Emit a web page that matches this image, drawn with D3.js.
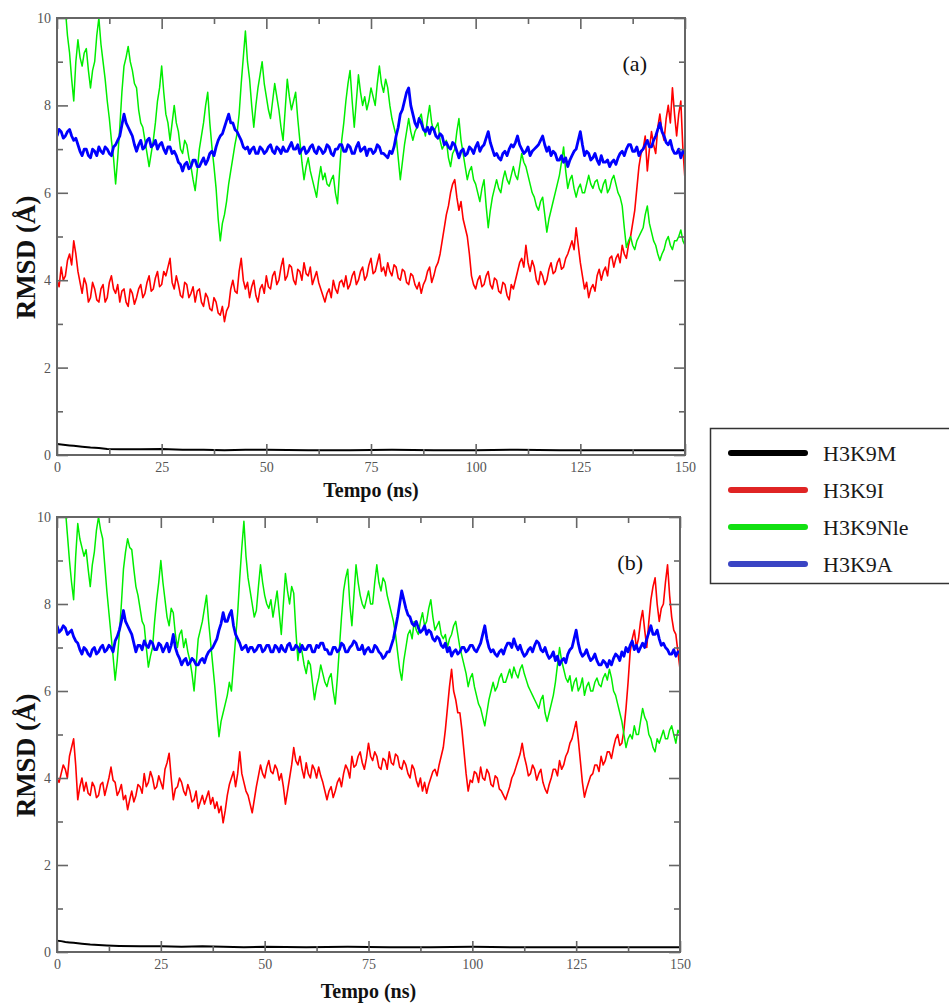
<!DOCTYPE html>
<html>
<head>
<meta charset="utf-8">
<script src="https://cdn.jsdelivr.net/npm/d3@7"></script>
<style>
  body { margin: 0; background: #fff; }
  svg { display: block; }
  .serif { font-family: "Liberation Serif", "Times New Roman", Times, "DejaVu Serif", "Noto Serif", serif; }
</style>
</head>
<body>
<svg id="chart" width="949" height="1003"></svg>
<script>
// RMSD traces of the four H3K9 variants, two replicate panels
const seriesNames = ["H3K9M", "H3K9I", "H3K9Nle", "H3K9A"];
const lineColors = ["#000000", "#ff0000", "#00ee00", "#0000ff"];
const legendColors = ["#000000", "#e02424", "#12e012", "#3a44c4"];
const panelTags = ["(a)", "(b)"];
const xTicks = [0, 25, 50, 75, 100, 125, 150];
const xMinorTicks = [12.5, 37.5, 62.5, 87.5, 112.5, 137.5];
const yTicks = [0, 2, 4, 6, 8, 10];
const yMinorTicks = [1, 3, 5, 7, 9];

// sampling times (ns) of the coloured traces: every 0.5 ns from 0 to 150
const timeNs = d3.range(0, 150.25, 0.5);

// H3K9M is sampled more sparsely
const blackTime = [0, 1, 2, 3, 4, 6, 8, 10, 12, 15, 20, 25, 30, 35, 40, 45, 50, 60, 70, 80, 90, 100, 110, 120, 130, 140, 150];
const blackA = [0.25, 0.24, 0.23, 0.22, 0.21, 0.19, 0.17, 0.16, 0.14, 0.13, 0.13, 0.14, 0.12, 0.12, 0.11, 0.12, 0.12, 0.11, 0.11, 0.12, 0.11, 0.11, 0.12, 0.11, 0.11, 0.11, 0.11];
const blackB = [0.26, 0.25, 0.23, 0.22, 0.21, 0.19, 0.17, 0.16, 0.15, 0.14, 0.13, 0.13, 0.12, 0.13, 0.12, 0.11, 0.12, 0.11, 0.12, 0.11, 0.11, 0.12, 0.11, 0.11, 0.11, 0.11, 0.11];

// panel (a), one row per 10 ns
const redA = [
  4.0,3.85, 4.3,4.0, 4.1,4.45, 4.6,4.35, 4.9,4.6, 4.2,3.95, 3.7,4.05, 3.9,3.5, 3.6,3.95, 3.8,3.55,
  3.5,3.8, 3.9,3.5, 3.6,3.95, 4.1,3.8, 3.7,3.9, 3.5,3.75, 3.8,3.5, 3.4,3.8, 3.7,3.45, 3.6,3.8,
  3.9,3.6, 3.7,3.95, 4.1,3.75, 3.8,4.05, 4.2,3.85, 3.9,4.2, 4.1,4.3, 4.5,3.95, 3.8,4.1, 3.9,3.65,
  3.6,3.95, 3.9,3.6, 3.7,3.85, 3.5,3.75, 3.8,3.5, 3.4,3.7, 3.6,3.35, 3.3,3.6, 3.5,3.25, 3.2,3.4,
  3.05,3.3, 3.4,3.8, 4.0,3.75, 3.7,4.2, 4.5,4.0, 3.8,3.95, 3.6,3.85, 4.0,3.65, 3.5,3.8, 3.9,3.7,
  4.1,3.85, 3.8,4.1, 4.2,3.9, 4.0,4.3, 4.5,4.0, 4.1,4.35, 4.3,4.0, 3.9,4.25, 4.2,4.0, 4.4,4.15,
  4.1,4.3, 3.9,4.05, 4.2,3.95, 3.8,3.65, 3.5,3.7, 3.8,3.6, 4.0,3.8, 3.7,3.95, 4.0,3.85, 4.1,3.8,
  3.9,4.1, 4.2,3.9, 4.0,4.2, 4.3,4.0, 4.1,4.35, 4.5,4.15, 4.2,4.4, 4.6,4.2, 4.3,4.1, 4.4,4.2,
  4.1,4.35, 4.3,4.05, 4.0,4.25, 4.2,3.95, 3.9,4.15, 4.1,3.9, 3.8,3.95, 3.7,3.9, 4.0,4.2, 4.3,3.95,
  4.1,4.3, 4.4,4.6, 4.9,5.2, 5.5,5.7, 6.0,6.2, 6.3,5.9, 5.6,5.8, 5.4,5.2, 5.0,4.6, 4.1,3.9,
  3.8,4.0, 4.1,3.85, 3.9,4.1, 4.2,3.9, 3.8,4.05, 4.0,3.75, 3.7,3.95, 3.9,3.65, 3.55,3.9, 3.8,4.0,
  4.2,4.4, 4.5,4.3, 4.8,4.4, 4.2,4.45, 4.3,4.0, 3.9,4.2, 4.1,3.9, 4.0,4.25, 4.4,4.15, 4.2,4.4,
  4.5,4.25, 4.3,4.5, 4.6,4.75, 4.9,4.7, 5.2,4.8, 4.4,4.1, 3.8,3.95, 3.6,3.8, 3.9,3.75, 4.1,4.25,
  4.0,4.2, 4.3,4.1, 4.5,4.55, 4.3,4.5, 4.6,4.4, 4.8,4.6, 4.5,4.8, 5.0,5.3, 5.6,6.1, 6.6,6.9,
  7.0,7.3, 6.5,7.0, 7.4,7.1, 6.9,7.5, 7.8,7.4, 7.2,7.7, 8.0,7.6, 8.4,7.8, 7.3,7.8, 8.1,7.0,
  6.3
];
const greenA = [
  10.8,10.6, 10.5,10.4, 10.2,9.6, 9.2,8.6, 8.1,9.0, 9.5,9.1, 8.9,9.2, 9.3,8.8, 8.4,8.8, 9.0,9.6,
  10.0,9.4, 9.0,8.6, 8.1,7.7, 7.2,6.8, 6.2,6.8, 7.5,8.3, 8.9,9.1, 9.35,9.0, 8.8,8.5, 8.4,7.9,
  7.6,7.5, 7.2,6.9, 6.6,6.9, 7.2,7.6, 8.1,8.4, 8.9,8.3, 7.8,7.6, 7.2,7.6, 8.0,7.6, 7.4,7.0,
  6.9,7.2, 7.1,6.8, 6.6,6.3, 6.05,6.5, 7.0,7.3, 7.6,8.0, 8.3,7.6, 7.05,6.6, 6.1,5.4, 4.9,5.3,
  5.5,5.8, 6.2,6.5, 6.8,7.1, 7.35,7.8, 8.5,9.1, 9.7,9.0, 8.6,8.0, 7.5,8.0, 8.4,8.7, 9.0,8.5,
  8.2,7.9, 7.7,8.1, 8.5,8.2, 7.9,7.5, 7.2,7.9, 8.6,8.2, 7.9,8.1, 8.3,7.7, 7.2,6.7, 6.3,6.6,
  6.8,6.5, 6.3,6.1, 5.9,6.3, 6.6,6.3, 6.45,6.2, 6.15,6.3, 6.4,6.0, 5.75,6.5, 7.2,7.6, 8.1,8.5,
  8.8,8.1, 7.5,8.1, 8.7,8.3, 8.0,8.2, 7.9,8.1, 8.4,8.2, 8.0,8.5, 8.9,8.5, 8.3,8.6, 8.4,8.0,
  7.7,7.5, 7.3,6.8, 6.3,6.7, 7.1,7.4, 7.7,7.4, 7.2,7.4, 7.5,7.7, 7.8,7.5, 7.3,7.7, 8.0,7.6,
  7.4,7.5, 7.6,7.2, 7.0,7.1, 7.2,6.8, 6.6,6.9, 7.0,7.4, 7.7,7.2, 6.9,6.6, 6.3,6.5, 6.6,6.3,
  6.2,6.0, 5.8,6.1, 6.3,5.7, 5.2,5.6, 5.9,6.1, 6.3,6.1, 6.0,6.3, 6.5,6.3, 6.2,6.4, 6.6,6.4,
  6.3,6.6, 6.9,6.7, 6.6,6.4, 6.2,6.0, 5.9,5.7, 5.6,5.8, 5.9,5.5, 5.1,5.4, 5.6,5.8, 6.0,6.2,
  6.4,6.7, 7.05,6.5, 6.1,6.3, 6.4,6.1, 5.9,6.1, 6.2,6.0, 6.0,6.2, 6.4,6.2, 6.1,6.25, 6.3,6.1,
  6.0,6.2, 6.3,6.0, 6.1,6.3, 6.4,6.2, 6.0,5.9, 5.7,5.2, 4.75,4.9, 5.0,4.8, 4.7,4.9, 5.0,5.1,
  5.2,5.5, 5.7,5.3, 5.1,4.9, 4.8,4.6, 4.45,4.6, 4.7,4.9, 5.0,4.8, 4.7,4.9, 4.9,5.0, 5.15,4.9,
  4.8
];
const blueA = [
  7.3,7.45, 7.4,7.25, 7.3,7.4, 7.45,7.3, 7.2,7.25, 7.1,6.95, 6.85,7.0, 7.0,6.85, 6.8,7.0, 6.95,6.85,
  7.05,6.95, 6.9,7.05, 7.0,6.9, 6.85,7.05, 7.1,7.2, 7.3,7.55, 7.8,7.6, 7.5,7.4, 7.3,7.1, 6.95,7.1,
  7.2,7.0, 7.05,7.2, 7.25,7.05, 7.1,7.2, 7.0,7.1, 7.15,7.0, 6.9,7.05, 7.05,6.9, 6.95,6.85, 6.7,6.65,
  6.5,6.65, 6.7,6.55, 6.6,6.75, 6.75,6.6, 6.6,6.7, 6.8,6.65, 6.75,6.9, 6.95,6.85, 7.05,7.2, 7.3,7.35,
  7.5,7.65, 7.8,7.6, 7.6,7.45, 7.4,7.3, 7.2,7.05, 7.0,7.05, 6.9,7.0, 7.05,6.9, 6.9,7.05, 7.0,6.9,
  6.95,7.05, 7.1,6.95, 6.9,7.05, 7.0,6.9, 7.05,6.95, 6.95,7.05, 7.15,7.0, 7.0,7.1, 6.9,7.0, 7.05,6.9,
  6.95,7.05, 7.1,6.95, 6.9,7.05, 7.0,6.9, 6.95,7.1, 7.05,6.9, 6.85,7.0, 7.0,7.1, 7.1,6.95, 6.95,7.1,
  7.05,6.9, 6.9,7.05, 7.15,6.95, 7.0,7.05, 6.85,7.0, 7.0,6.9, 6.95,7.1, 7.05,6.9, 6.9,6.85, 6.8,6.95,
  6.9,7.05, 7.3,7.5, 7.8,7.9, 8.1,8.3, 8.4,8.0, 7.8,7.6, 7.5,7.7, 7.6,7.45, 7.4,7.5, 7.35,7.5,
  7.45,7.3, 7.25,7.35, 7.3,7.1, 7.15,7.05, 7.0,7.15, 7.1,6.95, 6.8,6.95, 7.0,6.85, 6.9,7.05, 7.0,6.9,
  7.05,7.15, 6.95,7.05, 7.1,7.25, 7.4,7.15, 7.0,6.85, 6.9,6.8, 6.75,6.9, 6.95,6.85, 7.0,7.1, 7.05,7.15,
  7.3,7.1, 7.0,6.9, 6.95,7.05, 6.85,6.95, 7.0,7.05, 7.1,7.2, 7.3,7.1, 6.95,7.05, 6.85,6.95, 6.9,6.75,
  6.75,6.85, 6.7,6.8, 6.6,6.75, 6.85,6.95, 7.0,7.2, 7.4,7.1, 6.85,6.95, 6.9,6.75, 6.8,6.9, 6.75,6.65,
  6.85,6.7, 6.7,6.75, 6.6,6.7, 6.75,6.65, 6.8,6.9, 6.95,6.85, 7.0,7.1, 7.1,6.95, 6.95,7.05, 6.85,6.95,
  7.0,7.1, 7.2,7.05, 7.05,7.2, 7.3,7.45, 7.6,7.4, 7.3,7.15, 7.1,7.2, 7.0,6.9, 6.9,7.0, 6.8,6.95,
  6.9
];

// panel (b), one row per 10 ns
const redB = [
  4.0,3.9, 4.1,4.3, 4.2,4.0, 4.5,4.7, 4.9,4.3, 3.5,3.8, 4.0,3.7, 3.9,3.65, 3.6,3.9, 3.8,3.55,
  3.6,3.85, 3.9,3.6, 3.8,4.0, 4.25,3.95, 3.9,3.6, 3.7,3.85, 3.5,3.6, 3.27,3.5, 3.7,3.45, 3.6,3.85,
  3.8,3.65, 4.1,3.8, 3.9,4.15, 4.0,3.75, 3.8,4.05, 3.9,3.75, 4.2,4.35, 4.57,4.0, 3.5,3.75, 3.8,4.0,
  3.9,3.7, 3.6,3.85, 3.7,3.45, 3.5,3.7, 3.3,3.45, 3.6,3.4, 3.55,3.7, 3.4,3.55, 3.3,3.45, 3.2,3.35,
  2.97,3.25, 3.6,3.85, 4.0,4.15, 3.8,4.1, 4.6,4.1, 3.9,3.7, 3.6,3.4, 3.2,3.5, 3.8,4.05, 4.3,4.1,
  4.0,4.25, 4.4,4.15, 4.1,4.3, 4.2,3.95, 4.1,3.8, 3.4,3.7, 4.0,4.3, 4.7,4.4, 4.3,4.5, 4.2,4.0,
  4.35,4.1, 4.0,4.3, 4.2,4.0, 4.25,4.05, 3.9,3.7, 3.5,3.7, 3.8,3.55, 3.7,3.9, 4.0,3.8, 4.1,4.3,
  4.2,4.0, 4.5,4.25, 4.3,4.5, 4.6,4.35, 4.2,4.45, 4.8,4.5, 4.4,4.6, 4.5,4.25, 4.2,4.45, 4.4,4.2,
  4.6,4.35, 4.3,4.55, 4.5,4.25, 4.2,4.4, 4.3,4.1, 4.0,4.3, 4.2,3.95, 3.8,4.0, 3.7,3.9, 3.65,3.85,
  4.0,4.15, 4.2,4.05, 4.3,4.5, 4.7,5.1, 5.6,6.1, 6.5,6.0, 5.8,5.5, 5.5,5.1, 4.6,4.1, 3.7,3.95,
  3.9,4.15, 4.1,3.9, 4.25,4.0, 3.95,4.2, 4.1,3.85, 3.8,4.05, 4.0,3.75, 3.7,3.6, 3.5,3.65, 3.8,4.0,
  4.1,4.25, 4.4,4.55, 4.8,4.5, 4.3,4.05, 4.1,4.3, 4.2,3.95, 4.1,4.2, 3.9,3.75, 3.65,3.85, 4.0,4.2,
  4.2,4.05, 4.4,4.2, 4.3,4.5, 4.6,4.8, 4.9,5.1, 5.3,4.9, 4.4,3.9, 3.56,3.75, 3.9,4.05, 4.1,4.3,
  4.3,4.15, 4.5,4.3, 4.4,4.6, 4.6,4.45, 4.7,4.9, 5.0,4.75, 4.8,5.1, 5.6,6.2, 6.9,7.2, 7.4,7.0,
  7.2,7.6, 7.85,7.4, 7.0,7.6, 8.1,8.4, 8.6,8.0, 7.6,7.9, 8.0,8.5, 8.9,8.2, 7.7,7.4, 7.3,6.9,
  6.5
];
const greenB = [
  10.8,10.6, 10.5,10.4, 10.2,9.6, 9.0,8.5, 8.1,9.1, 9.85,9.5, 9.3,9.1, 9.25,8.8, 8.4,8.9, 9.2,9.7,
  10.0,9.7, 9.5,8.9, 8.3,7.8, 7.3,6.8, 6.25,6.7, 7.3,8.0, 8.8,9.2, 9.5,9.3, 9.25,8.8, 8.4,8.2,
  7.9,7.6, 7.5,7.0, 6.55,6.8, 7.0,7.6, 8.1,8.5, 9.0,8.5, 8.1,7.7, 7.5,7.9, 7.8,7.3, 7.0,7.3,
  7.4,7.0, 7.2,6.9, 6.7,6.4, 6.0,6.6, 7.2,7.4, 7.6,7.9, 8.2,7.6, 7.1,6.6, 6.1,5.5, 4.95,5.3,
  5.5,5.7, 5.9,6.2, 6.0,6.6, 7.2,7.8, 8.6,9.3, 9.9,9.1, 8.6,8.3, 8.0,7.7, 7.85,8.4, 8.9,8.5,
  8.2,8.0, 7.9,8.1, 7.7,8.0, 8.3,7.8, 7.3,8.0, 8.7,8.3, 8.0,8.4, 8.25,7.4, 6.7,7.1, 6.9,6.6,
  6.4,6.7, 6.6,6.2, 5.8,6.1, 6.3,6.6, 6.4,6.2, 6.1,6.3, 6.4,6.0, 5.7,6.3, 7.0,7.7, 8.3,8.6,
  8.8,8.0, 7.5,8.2, 8.9,8.5, 8.2,8.0, 7.9,8.1, 8.3,8.0, 8.0,8.5, 8.9,8.5, 8.3,8.6, 8.5,8.2,
  8.0,7.8, 7.6,7.3, 6.9,6.5, 6.25,6.7, 7.0,7.3, 7.4,7.2, 7.6,7.4, 7.3,7.6, 7.8,7.5, 7.6,7.9,
  8.1,7.7, 7.4,7.5, 7.6,7.3, 7.2,7.3, 7.0,7.2, 7.3,7.5, 7.6,7.3, 7.0,6.8, 6.6,6.4, 6.1,6.3,
  6.4,6.1, 5.9,5.7, 5.6,5.4, 5.2,5.5, 5.8,6.0, 6.2,6.0, 6.1,6.3, 6.4,6.2, 6.2,6.35, 6.5,6.3,
  6.55,6.4, 6.3,6.5, 6.6,6.4, 6.25,6.1, 6.0,5.9, 5.8,5.7, 5.6,5.8, 5.9,5.5, 5.3,5.5, 5.7,5.9,
  6.2,6.6, 7.0,6.7, 6.5,6.3, 6.2,6.35, 6.0,6.2, 6.3,6.0, 6.1,6.3, 5.9,6.1, 6.2,6.0, 6.0,6.2,
  6.3,6.15, 6.1,6.3, 6.4,6.25, 6.5,6.3, 6.0,5.9, 5.7,5.5, 5.3,5.0, 4.7,4.9, 5.0,4.9, 5.2,5.0,
  5.0,5.3, 5.6,5.4, 5.3,5.0, 4.9,4.7, 4.6,4.9, 4.8,4.95, 5.1,4.9, 4.9,5.1, 5.2,5.0, 4.8,5.1,
  5.0
];
const blueB = [
  7.5,7.35, 7.4,7.5, 7.45,7.3, 7.35,7.4, 7.25,7.15, 7.1,6.95, 6.85,7.0, 6.95,6.85, 6.8,6.95, 7.0,6.85,
  6.9,7.0, 7.05,6.9, 6.95,7.05, 7.0,6.9, 7.15,7.25, 7.4,7.6, 7.85,7.6, 7.5,7.4, 7.3,7.1, 6.9,7.05,
  7.05,6.95, 7.15,7.05, 7.0,7.15, 7.1,6.95, 6.95,7.1, 7.05,6.9, 7.0,7.1, 6.9,7.05, 7.3,7.0, 6.85,6.75,
  6.6,6.7, 6.75,6.6, 6.65,6.75, 6.7,6.6, 6.6,6.7, 6.75,6.65, 6.8,6.9, 6.95,7.0, 7.1,7.2, 7.4,7.55,
  7.8,7.6, 7.6,7.75, 7.85,7.5, 7.3,7.2, 7.1,6.95, 7.0,7.05, 6.9,7.0, 7.0,6.9, 6.95,7.05, 7.05,6.9,
  6.95,7.05, 7.05,6.9, 6.9,7.05, 7.0,6.9, 7.05,6.95, 6.9,7.05, 7.1,6.95, 6.95,7.05, 7.0,6.9, 7.05,6.95,
  6.95,7.05, 7.05,6.9, 6.9,7.05, 7.0,7.1, 7.1,6.95, 6.95,6.85, 6.85,7.0, 7.0,6.9, 6.95,7.1, 7.05,6.9,
  6.9,7.0, 7.05,7.15, 7.1,6.95, 6.95,7.05, 6.85,6.95, 7.0,6.9, 6.9,7.05, 7.0,6.9, 6.85,6.75, 6.8,6.9,
  6.9,7.05, 7.2,7.45, 7.7,8.0, 8.3,8.1, 7.9,7.75, 7.7,7.55, 7.5,7.6, 7.45,7.35, 7.4,7.5, 7.3,7.4,
  7.35,7.2, 7.15,7.25, 7.2,7.05, 7.0,7.1, 6.9,7.0, 6.8,6.9, 6.95,6.85, 6.9,7.0, 7.0,6.9, 6.95,7.05,
  7.05,6.95, 6.9,7.0, 7.1,7.3, 7.5,7.2, 7.0,6.9, 6.95,6.85, 6.8,6.9, 6.95,6.85, 7.0,7.1, 7.1,7.0,
  7.2,7.05, 6.95,7.05, 6.9,6.8, 6.85,6.95, 7.0,6.9, 7.05,7.15, 7.1,6.95, 6.9,7.0, 6.85,6.75, 6.8,6.9,
  6.7,6.8, 6.6,6.7, 6.75,6.65, 6.85,6.95, 7.0,7.2, 7.4,7.1, 6.9,6.8, 6.85,6.95, 6.8,6.7, 6.75,6.85,
  6.7,6.6, 6.6,6.7, 6.65,6.55, 6.7,6.6, 6.75,6.85, 6.8,6.7, 6.9,6.8, 7.0,6.9, 7.05,7.15, 6.95,7.05,
  6.9,7.0, 7.1,7.0, 7.2,7.35, 7.5,7.3, 7.3,7.4, 7.2,7.05, 7.1,7.0, 6.95,6.85, 6.85,6.95, 6.8,6.9,
  6.9
];

const svg = d3.select("#chart");

const panels = [
  { box: { left: 57, top: 18, right: 685, bottom: 455 }, black: blackA, traces: [redA, greenA, blueA], tag: panelTags[0], titleY: 497 },
  { box: { left: 57, top: 517, right: 680, bottom: 952 }, black: blackB, traces: [redB, greenB, blueB], tag: panelTags[1], titleY: 998 }
];
const traceWidths = [1.6, 1.5, 2.8];

panels.forEach((p, i) => {
  const b = p.box;
  const x = d3.scaleLinear().domain([0, 150]).range([b.left, b.right]);
  const y = d3.scaleLinear().domain([0, 10]).range([b.bottom, b.top]);
  const g = svg.append("g");

  const clipId = "plot-clip-" + i;
  svg.append("clipPath").attr("id", clipId)
    .append("rect")
    .attr("x", b.left).attr("y", b.top)
    .attr("width", b.right - b.left).attr("height", b.bottom - b.top);

  const lines = g.append("g").attr("clip-path", `url(#${clipId})`);
  const line = d3.line()
    .defined(d => d[1] != null)
    .x(d => x(d[0])).y(d => y(d[1]));

  // H3K9M
  lines.append("path")
    .datum(blackTime.map((t, k) => [t, p.black[k]]))
    .attr("d", line)
    .attr("fill", "none")
    .attr("stroke", lineColors[0])
    .attr("stroke-width", 2);

  // H3K9I, H3K9Nle, H3K9A
  p.traces.forEach((vals, k) => {
    lines.append("path")
      .datum(timeNs.map((t, j) => [t, vals[j]]))
      .attr("d", line)
      .attr("fill", "none")
      .attr("stroke", lineColors[k + 1])
      .attr("stroke-width", traceWidths[k])
      .attr("stroke-linejoin", "round");
  });

  const axisStyle = sel => {
    sel.select(".domain").remove();
    sel.attr("font-family", null).attr("font-size", null);
    sel.selectAll("line").attr("stroke", "#666").attr("stroke-width", 1.6);
    sel.selectAll("text").attr("class", "serif").attr("fill", "#555").style("font-size", "14px");
  };

  // bottom axis with labels
  g.append("g").attr("transform", `translate(0,${b.bottom})`)
    .call(d3.axisBottom(x).tickValues(xTicks).tickSize(-11).tickPadding(7).tickFormat(d3.format("d")))
    .call(axisStyle);
  g.append("g").attr("transform", `translate(0,${b.bottom})`)
    .call(d3.axisBottom(x).tickValues(xMinorTicks).tickSize(-6).tickFormat(""))
    .call(axisStyle);
  // top mirror ticks
  g.append("g").attr("transform", `translate(0,${b.top})`)
    .call(d3.axisTop(x).tickValues(xTicks).tickSize(-11).tickFormat(""))
    .call(axisStyle);
  g.append("g").attr("transform", `translate(0,${b.top})`)
    .call(d3.axisTop(x).tickValues(xMinorTicks).tickSize(-6).tickFormat(""))
    .call(axisStyle);
  // left axis with labels
  g.append("g").attr("transform", `translate(${b.left},0)`)
    .call(d3.axisLeft(y).tickValues(yTicks).tickSize(-11).tickPadding(6).tickFormat(d3.format("d")))
    .call(axisStyle);
  g.append("g").attr("transform", `translate(${b.left},0)`)
    .call(d3.axisLeft(y).tickValues(yMinorTicks).tickSize(-6).tickFormat(""))
    .call(axisStyle);
  // right mirror ticks
  g.append("g").attr("transform", `translate(${b.right},0)`)
    .call(d3.axisRight(y).tickValues(yTicks).tickSize(-11).tickFormat(""))
    .call(axisStyle);
  g.append("g").attr("transform", `translate(${b.right},0)`)
    .call(d3.axisRight(y).tickValues(yMinorTicks).tickSize(-6).tickFormat(""))
    .call(axisStyle);

  // frame
  g.append("rect")
    .attr("x", b.left).attr("y", b.top)
    .attr("width", b.right - b.left).attr("height", b.bottom - b.top)
    .attr("fill", "none").attr("stroke", "#666").attr("stroke-width", 2);

  // axis titles
  g.append("text")
    .attr("class", "serif")
    .attr("x", (b.left + b.right) / 2).attr("y", p.titleY)
    .attr("text-anchor", "middle")
    .style("font-weight", "bold").style("font-size", "20px")
    .attr("fill", "#111")
    .text("Tempo (ns)");
  const cy = (b.top + b.bottom) / 2 + 21;
  g.append("text")
    .attr("class", "serif")
    .attr("transform", `translate(35,${cy}) rotate(-90)`)
    .attr("text-anchor", "middle")
    .style("font-weight", "bold").style("font-size", "27px")
    .attr("fill", "#111")
    .text("RMSD (Å)");

  // panel tag
  g.append("text")
    .attr("class", "serif")
    .attr("x", x(138)).attr("y", b.top + 53)
    .attr("text-anchor", "middle")
    .style("font-size", "22px")
    .attr("fill", "#111")
    .text(p.tag);
});

// legend
const legend = svg.append("g");
legend.append("rect")
  .attr("x", 710.5).attr("y", 428.5)
  .attr("width", 260).attr("height", 155)
  .attr("fill", "#fff").attr("stroke", "#333").attr("stroke-width", 1.5);
const rowY = d3.scalePoint().domain(seriesNames).range([453, 564]);
seriesNames.forEach((name, k) => {
  const yy = rowY(name);
  legend.append("line")
    .attr("x1", 731).attr("x2", 805).attr("y1", yy).attr("y2", yy)
    .attr("stroke", legendColors[k]).attr("stroke-width", 6).attr("stroke-linecap", "round");
  legend.append("text")
    .attr("class", "serif")
    .attr("x", 823).attr("y", yy + 8)
    .style("font-size", "22px")
    .attr("fill", "#1a1a1a")
    .text(name);
});
</script>
</body>
</html>
